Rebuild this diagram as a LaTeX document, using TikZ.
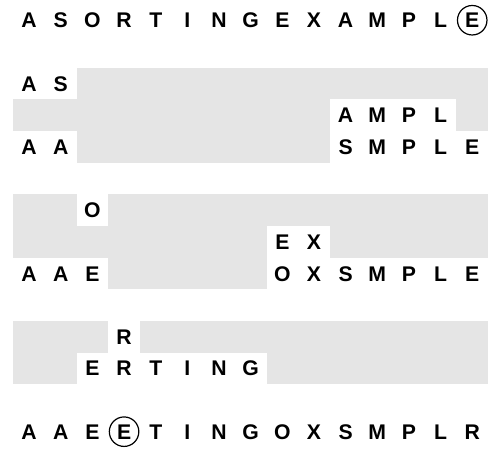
\documentclass[tikz,border=0pt]{standalone}
\usepackage{fontspec}
\setmainfont{Liberation Sans}
\definecolor{shade}{rgb}{0.898,0.898,0.898}
\newcommand\letterrow[4]{%
  \foreach \ch [count=\cc from #3] in {#4}
    \node[letter] (#1\cc) at (\cc+0.5,#2+0.5) {\ch};}
\begin{document}
\begin{tikzpicture}[x=31.65pt,y=-31.65pt,
  letter/.style={inner sep=0pt,font=\fontsize{21.2}{25}\selectfont\bfseries,text height=15.2pt,text depth=0pt},
  ring/.style={draw,circle,line width=1.2pt,minimum size=29.5pt,inner sep=0pt},
  shadebox/.style={fill=shade,draw=none},
  clearbox/.style={fill=white,draw=none}]
\useasboundingbox (-13.3pt,4.4pt) rectangle (476.7pt,-443.6pt);

% group 1
\fill[shadebox] (0,2) rectangle (15,5);
\fill[clearbox] (0,2) rectangle (2,3);
\fill[clearbox] (10,3) rectangle (14,4);
\fill[clearbox] (0,4) rectangle (2,5);
\fill[clearbox] (10,4) rectangle (15,5);
% group 2
\fill[shadebox] (0,6) rectangle (15,9);
\fill[clearbox] (2,6) rectangle (3,7);
\fill[clearbox] (8,7) rectangle (10,8);
\fill[clearbox] (0,8) rectangle (3,9);
\fill[clearbox] (8,8) rectangle (15,9);
% group 3
\fill[shadebox] (0,10) rectangle (15,12);
\fill[clearbox] (3,10) rectangle (4,11);
\fill[clearbox] (2,11) rectangle (8,12);

\letterrow{top}{0}{0}{A,S,O,R,T,I,N,G,E,X,A,M,P,L,E}
\node[ring] (topring) at (top14.center) {};

\letterrow{ga}{2}{0}{A,S}
\letterrow{gb}{3}{10}{A,M,P,L}
\letterrow{gc}{4}{0}{A,A}
\letterrow{gd}{4}{10}{S,M,P,L,E}

\letterrow{ha}{6}{2}{O}
\letterrow{hb}{7}{8}{E,X}
\letterrow{hc}{8}{0}{A,A,E}
\letterrow{hd}{8}{8}{O,X,S,M,P,L,E}

\letterrow{ka}{10}{3}{R}
\letterrow{kb}{11}{2}{E,R,T,I,N,G}

\letterrow{bot}{13}{0}{A,A,E,E,T,I,N,G,O,X,S,M,P,L,R}
\node[ring] (botring) at (bot3.center) {};
\end{tikzpicture}
\end{document}
